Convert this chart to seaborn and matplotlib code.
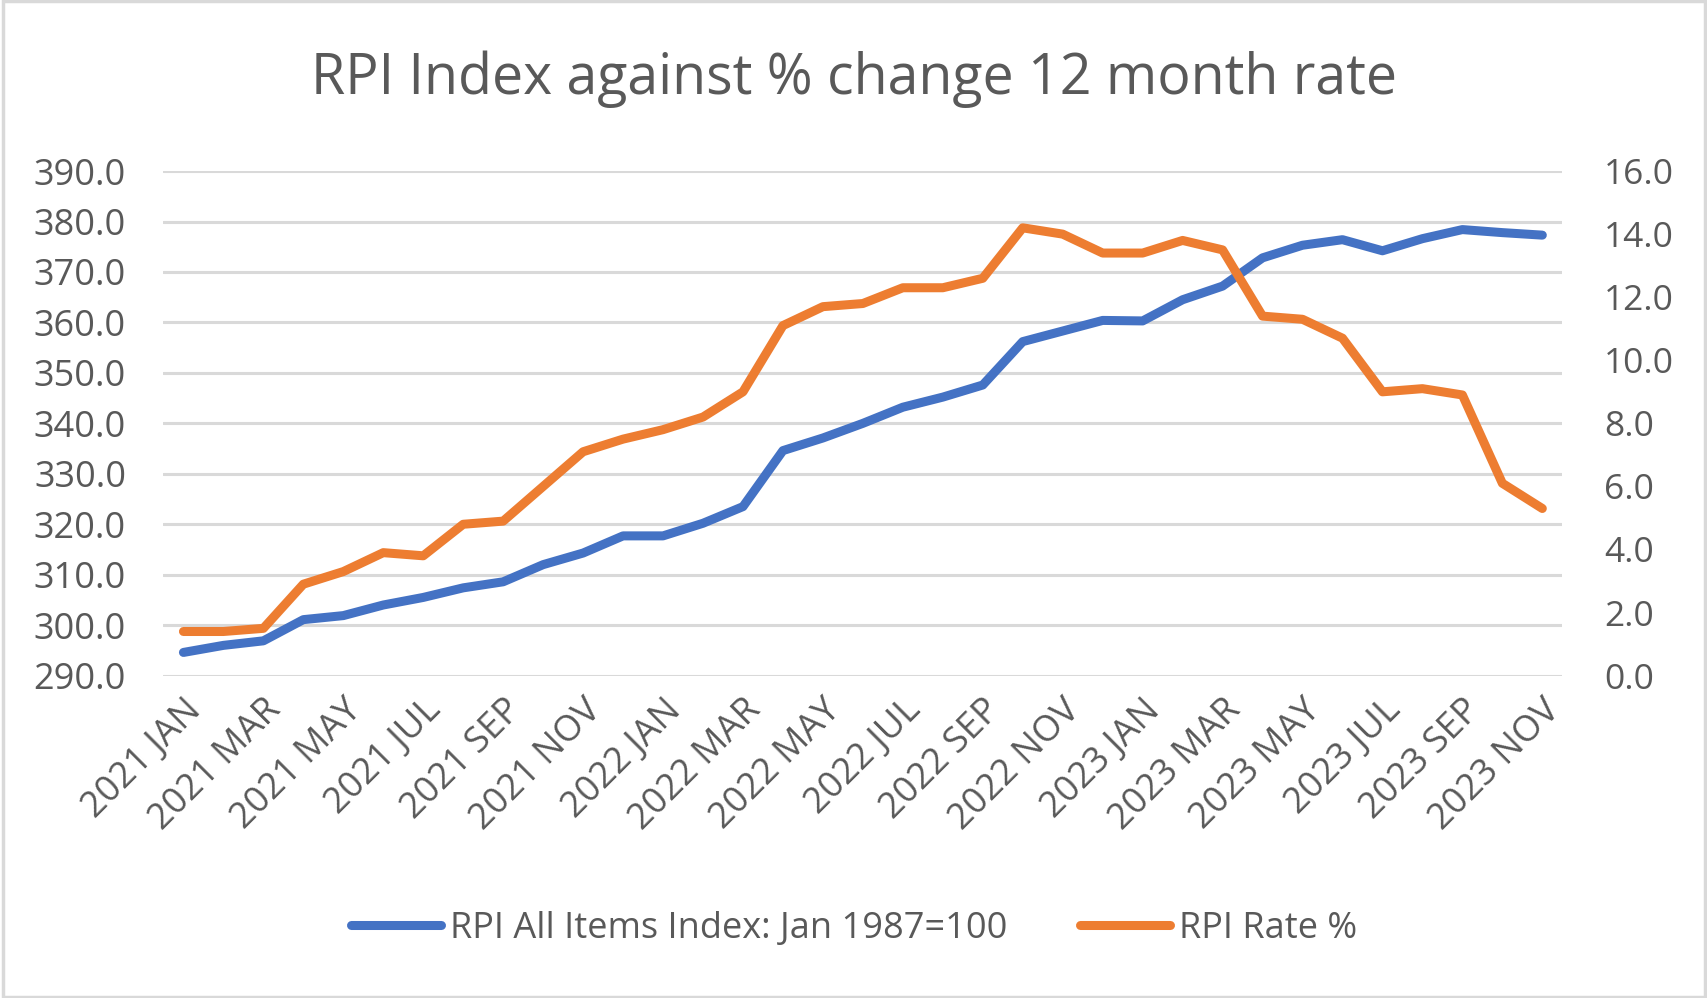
import matplotlib
matplotlib.use("Agg")
import matplotlib.pyplot as plt
import seaborn as sns
import pandas as pd
import numpy as np
from matplotlib.lines import Line2D
from matplotlib.patches import Rectangle

months = ["2021 JAN", "2021 FEB", "2021 MAR", "2021 APR", "2021 MAY", "2021 JUN",
          "2021 JUL", "2021 AUG", "2021 SEP", "2021 OCT", "2021 NOV", "2021 DEC",
          "2022 JAN", "2022 FEB", "2022 MAR", "2022 APR", "2022 MAY", "2022 JUN",
          "2022 JUL", "2022 AUG", "2022 SEP", "2022 OCT", "2022 NOV", "2022 DEC",
          "2023 JAN", "2023 FEB", "2023 MAR", "2023 APR", "2023 MAY", "2023 JUN",
          "2023 JUL", "2023 AUG", "2023 SEP", "2023 OCT", "2023 NOV"]
rpi_index = [294.6, 296.0, 296.9, 301.1, 301.9, 304.0, 305.5, 307.4, 308.6, 312.0,
             314.3, 317.7, 317.7, 320.2, 323.5, 334.6, 337.1, 340.0, 343.2, 345.2,
             347.6, 356.2, 358.3, 360.4, 360.3, 364.5, 367.2, 372.8, 375.3, 376.4,
             374.2, 376.6, 378.4, 377.8, 377.3]
rpi_rate = [1.4, 1.4, 1.5, 2.9, 3.3, 3.9, 3.8, 4.8, 4.9, 6.0, 7.1, 7.5, 7.8, 8.2,
            9.0, 11.1, 11.7, 11.8, 12.3, 12.3, 12.6, 14.2, 14.0, 13.4, 13.4, 13.8,
            13.5, 11.4, 11.3, 10.7, 9.0, 9.1, 8.9, 6.1, 5.3]
left_ticks = [290, 300, 310, 320, 330, 340, 350, 360, 370, 380, 390]
right_ticks = [0, 2, 4, 6, 8, 10, 12, 14, 16]

label_index = "RPI All Items Index: Jan 1987=100"
label_rate = "RPI Rate %"

df = pd.DataFrame({"pos": np.arange(len(months)), "month": months,
                   "index": rpi_index, "rate": rpi_rate})

sns.set_theme(style="white")
plt.rcParams["font.family"] = ["Open Sans", "DejaVu Sans"]

BLUE = "#4472C4"
ORANGE = "#ED7D31"
GRID = "#D9D9D9"
TEXT = "#595959"

fig = plt.figure(figsize=(17.08, 9.98), dpi=100)
ax = fig.add_axes([0.0957, 0.323, 0.819, 0.5056])
ax2 = ax.twinx()

for a in (ax, ax2):
    for s in a.spines.values():
        s.set_visible(False)
    a.tick_params(length=0, colors=TEXT)

ax.set_ylim(290, 390)
ax.set_yticks(left_ticks)
ax.set_yticklabels([f"{v:.1f}" for v in left_ticks])
ax2.set_ylim(0, 16)
ax2.set_yticks(right_ticks)
ax2.set_yticklabels([f"{v:.1f}" for v in right_ticks])
ax.yaxis.grid(True, color=GRID, linewidth=2.2)
ax.set_axisbelow(True)
ax.tick_params(axis="y", pad=27, labelsize=26)
ax2.tick_params(axis="y", pad=30, labelsize=25.5)

sns.lineplot(data=df, x="pos", y="index", ax=ax, color=BLUE, linewidth=6.5,
             solid_capstyle="round", solid_joinstyle="round", legend=False)
sns.lineplot(data=df, x="pos", y="rate", ax=ax2, color=ORANGE, linewidth=6.5,
             solid_capstyle="round", solid_joinstyle="round", legend=False)

ax.set_xlim(-0.5, len(months) - 0.5)
ax.set_xticks(df["pos"][::2])
ax.set_xticklabels(df["month"][::2], rotation=45, ha="right", va="top",
                   rotation_mode="anchor")
ax.tick_params(axis="x", labelsize=26, pad=12)
ax.set_xlabel("")
ax.set_ylabel("")
ax2.set_ylabel("")

fig.text(0.5, 0.921, "RPI Index against % change 12 month rate", ha="center",
         va="center", fontsize=40, color=TEXT)

handles = [Line2D([0], [0], color=BLUE, linewidth=6.5, solid_capstyle="round"),
           Line2D([0], [0], color=ORANGE, linewidth=6.5, solid_capstyle="round")]
leg = fig.legend(handles, [label_index, label_rate], loc="center",
                 bbox_to_anchor=(0.5, 0.069), ncol=2, frameon=False,
                 fontsize=26, handlelength=2.5, handletextpad=0.25,
                 columnspacing=2.0, labelcolor=TEXT)

fig.patches.append(Rectangle((0.0015, 0.0015), 0.997, 0.997, transform=fig.transFigure,
                             fill=False, edgecolor=GRID, linewidth=2.5))

fig.savefig("out.png", dpi=100, facecolor="white")
